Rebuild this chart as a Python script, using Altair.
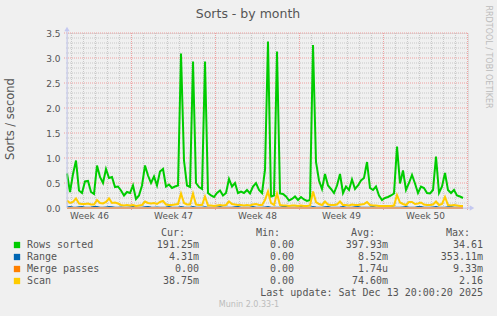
import altair as alt
import pandas as pd

# ---------------- data ----------------
START_DAY = -5.375   # days relative to Monday of week 47 (left edge of graph)
STEP_DAY = 0.25      # sample spacing (6 h)

rows_sorted = [
    0.69, 0.32, 0.68, 0.95, 0.35, 0.30, 0.53, 0.54, 0.32, 0.28, 0.85, 0.62, 0.50, 0.78, 0.60, 0.62, 0.42, 0.43, 0.35, 0.25,
    0.32, 0.30, 0.45, 0.18, 0.25, 0.45, 0.85, 0.65, 0.50, 0.63, 0.45, 0.73, 0.78, 0.43, 0.47, 0.40, 0.43, 0.45, 3.09, 0.95,
    0.45, 0.42, 2.93, 0.50, 0.42, 0.38, 2.93, 0.30, 0.25, 0.22, 0.30, 0.35, 0.25, 0.30, 0.58, 0.43, 0.50, 0.30, 0.33, 0.30,
    0.36, 0.29, 0.43, 0.50, 0.36, 0.30, 0.76, 3.33, 0.23, 0.25, 3.13, 0.29, 0.28, 0.23, 0.15, 0.18, 0.23, 0.16, 0.22, 0.17,
    0.14, 0.16, 3.26, 0.92, 0.55, 0.38, 0.68, 0.45, 0.38, 0.30, 0.45, 0.68, 0.30, 0.43, 0.36, 0.57, 0.38, 0.45, 0.55, 0.60,
    0.92, 0.40, 0.36, 0.43, 0.25, 0.16, 0.20, 0.22, 0.25, 0.29, 1.23, 0.49, 0.75, 0.36, 0.50, 0.66, 0.49, 0.30, 0.43, 0.40,
    0.30, 0.29, 0.36, 1.03, 0.30, 0.43, 0.70, 0.36, 0.30, 0.36, 0.25, 0.23, 0.20,
]
range_vals = [
    0.012, 0.02, 0.008, 0.005, 0.015, 0.02, 0.006, 0.004, 0.01, 0.018, 0.02, 0.006, 0.005, 0.012, 0.02, 0.015, 0.004, 0.006, 0.01, 0.005,
    0.004, 0.012, 0.018, 0.006, 0.005, 0.004, 0.015, 0.02, 0.008, 0.006, 0.012, 0.005, 0.004, 0.01, 0.02, 0.006, 0.005, 0.004, 0.018, 0.01,
    0.006, 0.005, 0.02, 0.006, 0.004, 0.005, 0.015, 0.006, 0.004, 0.005, 0.012, 0.02, 0.006, 0.004, 0.005, 0.004, 0.015, 0.02, 0.006, 0.005,
    0.004, 0.01, 0.02, 0.006, 0.005, 0.004, 0.012, 0.02, 0.006, 0.005, 0.004, 0.006, 0.018, 0.02, 0.006, 0.004, 0.005, 0.012, 0.02, 0.006,
    0.005, 0.004, 0.018, 0.01, 0.005, 0.006, 0.015, 0.02, 0.004, 0.005, 0.006, 0.012, 0.02, 0.006, 0.004, 0.005, 0.015, 0.02, 0.006, 0.004,
    0.005, 0.01, 0.02, 0.006, 0.004, 0.005, 0.004, 0.015, 0.02, 0.006, 0.005, 0.004, 0.012, 0.02, 0.006, 0.004, 0.005, 0.018, 0.02, 0.006,
    0.004, 0.005, 0.012, 0.02, 0.006, 0.004, 0.005, 0.015, 0.02, 0.006, 0.004, 0.005, 0.01,
]
merge_passes = [0.0] * len(rows_sorted)
scan_vals = [
    0.15, 0.10, 0.12, 0.19, 0.09, 0.08, 0.08, 0.09, 0.07, 0.07, 0.16, 0.10, 0.09, 0.12, 0.19, 0.10, 0.11, 0.09, 0.06, 0.05,
    0.06, 0.05, 0.06, 0.04, 0.05, 0.06, 0.13, 0.10, 0.09, 0.10, 0.08, 0.12, 0.14, 0.07, 0.06, 0.06, 0.07, 0.08, 0.29, 0.10,
    0.07, 0.07, 0.29, 0.07, 0.06, 0.06, 0.23, 0.05, 0.05, 0.04, 0.05, 0.06, 0.05, 0.06, 0.13, 0.08, 0.07, 0.06, 0.06, 0.05,
    0.06, 0.05, 0.07, 0.08, 0.06, 0.06, 0.16, 0.33, 0.10, 0.06, 0.29, 0.06, 0.05, 0.05, 0.04, 0.05, 0.05, 0.04, 0.05, 0.04,
    0.04, 0.05, 0.33, 0.12, 0.08, 0.06, 0.13, 0.07, 0.06, 0.06, 0.07, 0.13, 0.06, 0.06, 0.05, 0.07, 0.06, 0.06, 0.07, 0.08,
    0.12, 0.06, 0.05, 0.05, 0.04, 0.04, 0.04, 0.04, 0.04, 0.05, 0.26, 0.11, 0.08, 0.06, 0.12, 0.12, 0.08, 0.09, 0.11, 0.07,
    0.06, 0.06, 0.07, 0.13, 0.06, 0.08, 0.22, 0.06, 0.05, 0.06, 0.05, 0.04, 0.04,
]

series_names = ["Rows sorted", "Range", "Merge passes", "Scan"]
series_colors = ["#00CC00", "#0066B3", "#FF8000", "#FFCC00"]
series_data = [rows_sorted, range_vals, merge_passes, scan_vals]
cur_vals = ["191.25m", "4.31m", "0.00", "38.75m"]
min_vals = ["0.00", "0.00", "0.00", "0.00"]
avg_vals = ["397.93m", "8.52m", "1.74u", "74.60m"]
max_vals = ["34.61", "353.11m", "9.33m", "2.16"]

week_labels = ["Week 46", "Week 47", "Week 48", "Week 49", "Week 50"]
week_label_pos = [-3.5, 3.5, 10.5, 17.5, 24.5]
week_bounds = [0, 7, 14, 21, 28]
day_lines = [d for d in range(-5, 29) if d not in week_bounds]
y_major = [0.5, 1.0, 1.5, 2.0, 2.5, 3.0, 3.5]
y_minor = [round(k / 10, 1) for k in range(1, 35) if k % 5 != 0]
y_ticks = [0.0, 0.5, 1.0, 1.5, 2.0, 2.5, 3.0, 3.5]

# ---------------- layout ----------------
W, H = 401, 175
X0, Y0 = 67, 33
TXT = "#555555"
AXC = "#c4c8f0"
GRID = "#c8c8c8"
MGRID = "#eea0a0"

xscale = alt.Scale(domain=[START_DAY, START_DAY + W / 12.0], nice=False, zero=False)
yscale = alt.Scale(domain=[0, 3.5], nice=False, zero=True)
yaxis = alt.Axis(values=y_ticks, format=".1f", ticks=False, domain=False, grid=False,
                 labelPadding=7, labelFont="DejaVu Sans", labelFontSize=9, labelColor=TXT, title=None)


def X(f):
    return alt.X(f, scale=xscale, axis=None)


def Y(f):
    return alt.Y(f, scale=yscale, axis=yaxis)


one = pd.DataFrame({"a": [0]})


def txt(s, x, y, size, color=TXT, align="left", font="DejaVu Sans", angle=0):
    kw = dict(text=s, align=align, baseline="middle", fontSize=size, color=color, font=font)
    if angle:
        kw["angle"] = angle
    return alt.Chart(one).mark_text(**kw).encode(x=alt.value(x - X0), y=alt.value(y - Y0))


layers = []

# grid
layers.append(alt.Chart(pd.DataFrame({"v": y_minor})).mark_rule(color=GRID, strokeDash=[1, 1], strokeWidth=1)
              .encode(y=Y("v:Q"), x=alt.value(-1), x2=alt.value(W)))
layers.append(alt.Chart(pd.DataFrame({"d": day_lines})).mark_rule(color=GRID, strokeDash=[1, 1], strokeWidth=1)
              .encode(x=X("d:Q"), y=alt.value(0), y2=alt.value(H)))
layers.append(alt.Chart(pd.DataFrame({"v": y_major})).mark_rule(color=MGRID, strokeDash=[1, 1], strokeWidth=1)
              .encode(y=Y("v:Q"), x=alt.value(-3), x2=alt.value(W)))
layers.append(alt.Chart(pd.DataFrame({"d": week_bounds})).mark_rule(color=MGRID, strokeDash=[1, 1], strokeWidth=1)
              .encode(x=X("d:Q"), y=alt.value(0), y2=alt.value(H + 3)))

# series
for name, col, vals in zip(series_names, series_colors, series_data):
    n = len(vals)
    df = pd.DataFrame({"t": [START_DAY + STEP_DAY * i for i in range(n)], "v": vals})
    layers.append(alt.Chart(df).mark_line(color=col, strokeWidth=2, interpolate="linear")
                  .encode(x=X("t:Q"), y=Y("v:Q")))

# axes lines and arrows
layers.append(alt.Chart(one).mark_rule(color=AXC, strokeWidth=1)
              .encode(x=alt.value(0), y=alt.value(-3), y2=alt.value(H)))
layers.append(alt.Chart(one).mark_rule(color=AXC, strokeWidth=1)
              .encode(x=alt.value(0), x2=alt.value(W + 3), y=alt.value(H)))
layers.append(alt.Chart(one).mark_point(shape="triangle-up", filled=True, color=AXC, size=28, opacity=1)
              .encode(x=alt.value(0), y=alt.value(-4)))
layers.append(alt.Chart(one).mark_point(shape="triangle-right", filled=True, color=AXC, size=28, opacity=1)
              .encode(x=alt.value(W + 4), y=alt.value(H)))

# week labels on x
layers.append(alt.Chart(pd.DataFrame({"p": week_label_pos, "l": week_labels}))
              .mark_text(font="DejaVu Sans", fontSize=9, color=TXT, baseline="middle", align="center")
              .encode(x=X("p:Q"), y=alt.value(216 - Y0), text="l:N"))

# titles
layers.append(txt("Sorts - by month", 248, 14, 12.5, align="center"))
layers.append(txt("Sorts / second", 11, 119, 11.5, align="center", angle=270))
layers.append(txt("RRDTOOL / TOBI OETIKER", 488, 57, 8, color="#bcbcbc", align="center", angle=90))

# legend
NBSP = "\u00a0"


def pad(s):
    return s if s[-1].isalpha() else s + NBSP


MONO = "DejaVu Sans Mono"
for hdr, hx in zip(["Cur:", "Min:", "Avg:", "Max:"], [185, 280, 375, 470]):
    layers.append(txt(hdr, hx, 233, 10, align="right", font=MONO))
row_y = [245, 257, 269, 281]
for k, name in enumerate(series_names):
    yy = row_y[k]
    layers.append(alt.Chart(one).mark_square(color=series_colors[k], size=40, opacity=1)
                  .encode(x=alt.value(17 - X0), y=alt.value(yy - Y0)))
    layers.append(txt(name, 27, yy, 10, font=MONO))
    for vals, ex in zip([cur_vals, min_vals, avg_vals, max_vals], [199, 294, 388, 483]):
        layers.append(txt(pad(vals[k]), ex, yy, 10, align="right", font=MONO))

layers.append(txt("Last update: Sat Dec 13 20:00:20 2025", 483, 293, 10, align="right", font=MONO))
layers.append(txt("Munin 2.0.33-1", 249, 305, 8, color="#bcbcbc", align="center"))

chart = alt.layer(*layers).properties(
    width=W, height=H,
    autosize=alt.AutoSizeParams(type="none"),
    padding={"left": X0, "top": Y0, "right": 497 - X0 - W, "bottom": 316 - Y0 - H},
    background="#F0F0F0",
).configure_view(strokeWidth=0, fill="white").configure(font="DejaVu Sans")

chart.save("out.html", embed_options={"renderer": "svg", "actions": False})
